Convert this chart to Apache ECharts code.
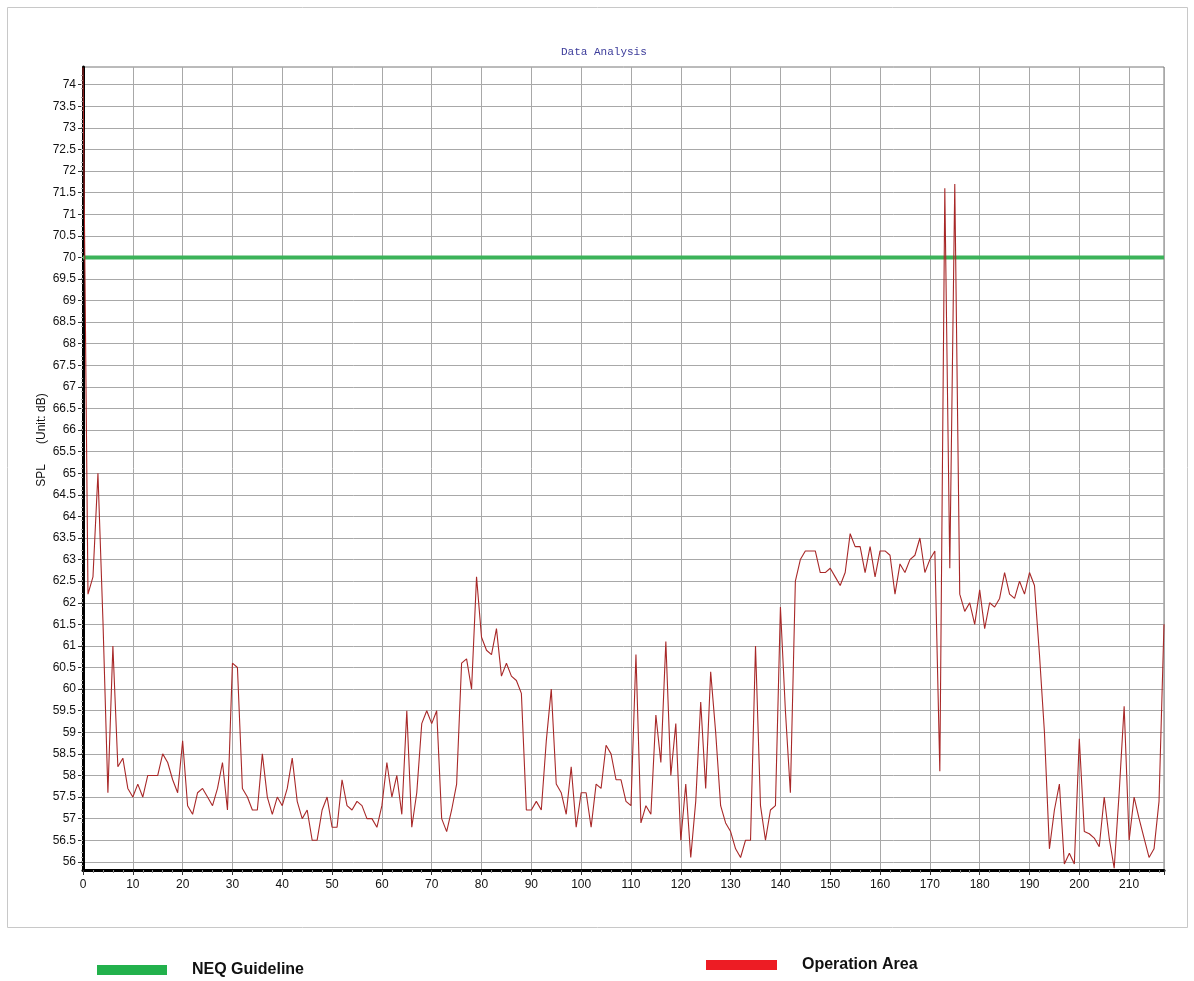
<!DOCTYPE html>
<html><head><meta charset="utf-8">
<script src="https://cdn.jsdelivr.net/npm/echarts@6/dist/echarts.min.js"></script>
<style>html,body{margin:0;padding:0;background:#fff}#c{width:1194px;height:981px}</style>
</head><body><div id="c"></div>
<script>
// Operation Area SPL readings (one per sample index 0..217)
const splValues = [
  74.4, 62.2, 62.6, 65.0, 61.6, 57.6, 61.0, 58.2, 58.4, 57.7,
  57.5, 57.8, 57.5, 58.0, 58.0, 58.0, 58.5, 58.3, 57.9, 57.6,
  58.8, 57.3, 57.1, 57.6, 57.7, 57.5, 57.3, 57.7, 58.3, 57.2,
  60.6, 60.5, 57.7, 57.5, 57.2, 57.2, 58.5, 57.5, 57.1, 57.5,
  57.3, 57.7, 58.4, 57.4, 57.0, 57.2, 56.5, 56.5, 57.2, 57.5,
  56.8, 56.8, 57.9, 57.3, 57.2, 57.4, 57.3, 57.0, 57.0, 56.8,
  57.3, 58.3, 57.5, 58.0, 57.1, 59.5, 56.8, 57.6, 59.2, 59.5,
  59.2, 59.5, 57.0, 56.7, 57.2, 57.8, 60.6, 60.7, 60.0, 62.6,
  61.2, 60.9, 60.8, 61.4, 60.3, 60.6, 60.3, 60.2, 59.9, 57.2,
  57.2, 57.4, 57.2, 58.8, 60.0, 57.8, 57.6, 57.1, 58.2, 56.8,
  57.6, 57.6, 56.8, 57.8, 57.7, 58.7, 58.5, 57.9, 57.9, 57.4,
  57.3, 60.8, 56.9, 57.3, 57.1, 59.4, 58.3, 61.1, 58.0, 59.2,
  56.5, 57.8, 56.1, 57.4, 59.7, 57.7, 60.4, 59.0, 57.3, 56.9,
  56.7, 56.3, 56.1, 56.5, 56.5, 61.0, 57.3, 56.5, 57.2, 57.3,
  61.9, 59.5, 57.6, 62.5, 63.0, 63.2, 63.2, 63.2, 62.7, 62.7,
  62.8, 62.6, 62.4, 62.7, 63.6, 63.3, 63.3, 62.7, 63.3, 62.6,
  63.2, 63.2, 63.1, 62.2, 62.9, 62.7, 63.0, 63.1, 63.5, 62.7,
  63.0, 63.2, 58.1, 71.6, 62.8, 71.7, 62.2, 61.8, 62.0, 61.5,
  62.3, 61.4, 62.0, 61.9, 62.1, 62.7, 62.2, 62.1, 62.5, 62.2,
  62.7, 62.4, 60.8, 59.0, 56.3, 57.2, 57.8, 55.95, 56.2, 55.95,
  58.85, 56.7, 56.65, 56.55, 56.35, 57.5, 56.55, 55.85, 57.6, 59.6,
  56.5, 57.5, 57.0, 56.55, 56.1, 56.3, 57.4, 61.5
];
const guidelineValue = 70;
const yTickLabels = [56, 56.5, 57, 57.5, 58, 58.5, 59, 59.5, 60, 60.5, 61, 61.5, 62, 62.5,
  63, 63.5, 64, 64.5, 65, 65.5, 66, 66.5, 67, 67.5, 68, 68.5, 69, 69.5, 70, 70.5,
  71, 71.5, 72, 72.5, 73, 73.5, 74];
const seriesNames = ['NEQ Guideline', 'Operation Area'];
const xMin = 0, xMax = 217, yMin = 55.81, yMax = 74.41;

const chart = echarts.init(document.getElementById('c'));
const opData = splValues.map((v, i) => [i, v]);
const labelFont = 'Arial, "Liberation Sans", sans-serif';

chart.setOption({
  backgroundColor: '#ffffff',
  animation: false,
  title: {
    text: 'Data Analysis', left: 561, top: 47, padding: 0,
    textStyle: { fontFamily: '"Liberation Mono", "DejaVu Sans Mono", monospace', fontSize: 11, fontWeight: 'normal', color: '#3b3b9a' }
  },
  grid: { left: 83, right: 30, top: 67, bottom: 111, show: true, borderColor: '#777', borderWidth: 1, backgroundColor: 'transparent' },
  xAxis: {
    type: 'value', min: xMin, max: xMax, interval: 10,
    axisLine: { show: true, lineStyle: { color: '#000', width: 3 } },
    axisTick: { show: true, inside: false, length: 5, lineStyle: { color: '#333' } },
    minorTick: { show: true, splitNumber: 5, length: 3, lineStyle: { color: '#888' } },
    axisLabel: { color: '#111', fontSize: 12, fontFamily: labelFont, margin: 9, showMaxLabel: false },
    splitLine: { show: true, lineStyle: { color: '#a8a8a8', width: 1 } }
  },
  yAxis: {
    type: 'value', min: yMin, max: yMax, interval: 0.5,
    axisLine: { show: true, lineStyle: { color: '#000', width: 3 } },
    axisTick: { show: true, length: 5, customValues: yTickLabels, lineStyle: { color: '#333' } },
    minorTick: { show: true, splitNumber: 5, length: 2, lineStyle: { color: '#aaa' } },
    axisLabel: { color: '#111', fontSize: 12, fontFamily: labelFont, margin: 7, customValues: yTickLabels },
    splitLine: { show: true, lineStyle: { color: '#a8a8a8', width: 1 } }
  },
  legend: [
    {
      data: [{ name: seriesNames[0], itemStyle: { color: '#22b14c' } }],
      left: 97, top: 962, padding: 0, icon: 'rect', itemWidth: 70, itemHeight: 10, selectedMode: false,
      textStyle: { fontSize: 16, fontWeight: 'bold', fontFamily: labelFont, color: '#111', padding: [0, 0, 0, 20] }
    },
    {
      data: [{ name: seriesNames[1], itemStyle: { color: '#ed1c24' } }],
      left: 706, top: 957, padding: 0, icon: 'rect', itemWidth: 71, itemHeight: 10, selectedMode: false,
      textStyle: { fontSize: 16, fontWeight: 'bold', fontFamily: labelFont, color: '#111', padding: [0, 0, 0, 20] }
    }
  ],
  graphic: [
    { type: 'rect', shape: { x: 7.5, y: 7.5, width: 1180, height: 920 }, style: { fill: 'none', stroke: '#c8c8c8', lineWidth: 1 }, z: -10, silent: true },
    { type: 'text', x: 42, y: 440, rotation: Math.PI / 2,
      style: { text: 'SPL      (Unit: dB)', fill: '#111', font: '12px Arial, "Liberation Sans", sans-serif', align: 'center', verticalAlign: 'middle' } }
  ],
  series: [
    {
      name: seriesNames[0], type: 'line', data: [[xMin, guidelineValue], [xMax, guidelineValue]],
      symbol: 'none', lineStyle: { color: '#3cb35a', width: 4 }, itemStyle: { color: '#22b14c' }, z: 3
    },
    {
      name: seriesNames[1], type: 'line', data: opData, symbol: 'none',
      lineStyle: { color: '#a82828', width: 1.1 }, itemStyle: { color: '#ed1c24' }, z: 4
    }
  ]
});
</script></body></html>
